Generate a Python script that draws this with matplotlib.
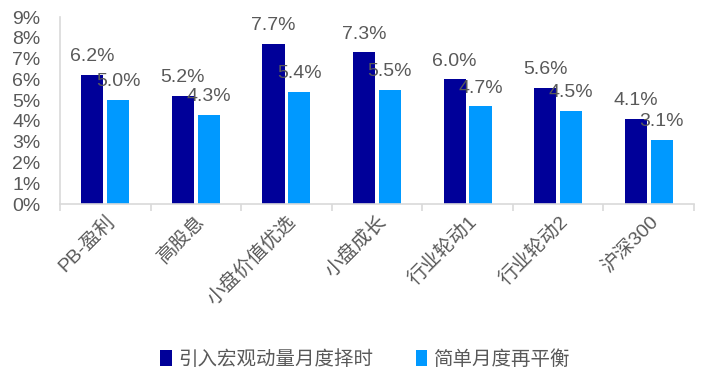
import matplotlib
matplotlib.use("Agg")
import matplotlib.pyplot as plt
import numpy as np
from matplotlib.ticker import FuncFormatter

plt.rcParams['font.family'] = ['Liberation Sans', 'Noto Sans CJK SC', 'DejaVu Sans']

categories = ["PB-盈利", "高股息", "小盘价值优选", "小盘成长", "行业轮动1", "行业轮动2", "沪深300"]
timing = [6.2, 5.2, 7.7, 7.3, 6.0, 5.6, 4.1]
rebalance = [5.0, 4.3, 5.4, 5.5, 4.7, 4.5, 3.1]
series_names = ["引入宏观动量月度择时", "简单月度再平衡"]
yticks = list(range(0, 10))

dark = "#000099"
light = "#0099FF"
gray = "#595959"
spine = "#D9D9D9"

fig = plt.figure(figsize=(7.02, 3.78), dpi=100)
ax = fig.add_axes([0.0855, 0.4603, 0.9031, 0.4947])

x = np.arange(len(categories))
w = 0.245
off = 0.143
b1 = ax.bar(x - off, timing, w, color=dark, label=series_names[0])
b2 = ax.bar(x + off, rebalance, w, color=light, label=series_names[1])

for bars, vals in ((b1, timing), (b2, rebalance)):
    for r, v in zip(bars, vals):
        ax.annotate(f"{v:.1f}%", (r.get_x() + r.get_width() / 2, r.get_height()),
                    xytext=(0, 7), textcoords="offset points", ha="center", va="bottom",
                    fontsize=14, color=gray)

ax.set_xlim(-0.5, len(categories) - 0.5)
ax.set_ylim(0, 9)
ax.set_yticks(yticks)
ax.yaxis.set_major_formatter(FuncFormatter(lambda v, p: f"{int(v)}%"))
ax.tick_params(axis='y', labelsize=14, labelcolor=gray, length=0, pad=14)

ax.set_xticks(x)
ax.set_xticklabels(categories, rotation=45, ha='right', rotation_mode='anchor',
                   fontsize=14, color=gray, family=['Liberation Sans', 'Noto Sans CJK SC'])
ax.tick_params(axis='x', length=0, pad=6)
ax.set_xticks(np.arange(-0.5, len(categories)), minor=True)
ax.tick_params(axis='x', which='minor', length=5, color=spine, width=1.2)

for s in ['top', 'right']:
    ax.spines[s].set_visible(False)
ax.spines['left'].set_color(spine)
ax.spines['bottom'].set_color(spine)
ax.spines['left'].set_linewidth(1.2)
ax.spines['bottom'].set_linewidth(1.2)

leg = fig.legend(handles=[b1, b2], labels=series_names, loc='center', bbox_to_anchor=(0.52, 0.05),
                 ncol=2, frameon=False, fontsize=14, handlelength=0.6, handleheight=0.9,
                 handletextpad=0.3, columnspacing=2.2)
for t in leg.get_texts():
    t.set_color(gray)
    t.set_family(['Noto Sans CJK SC', 'DejaVu Sans'])

fig.savefig("out.png", dpi=100)
